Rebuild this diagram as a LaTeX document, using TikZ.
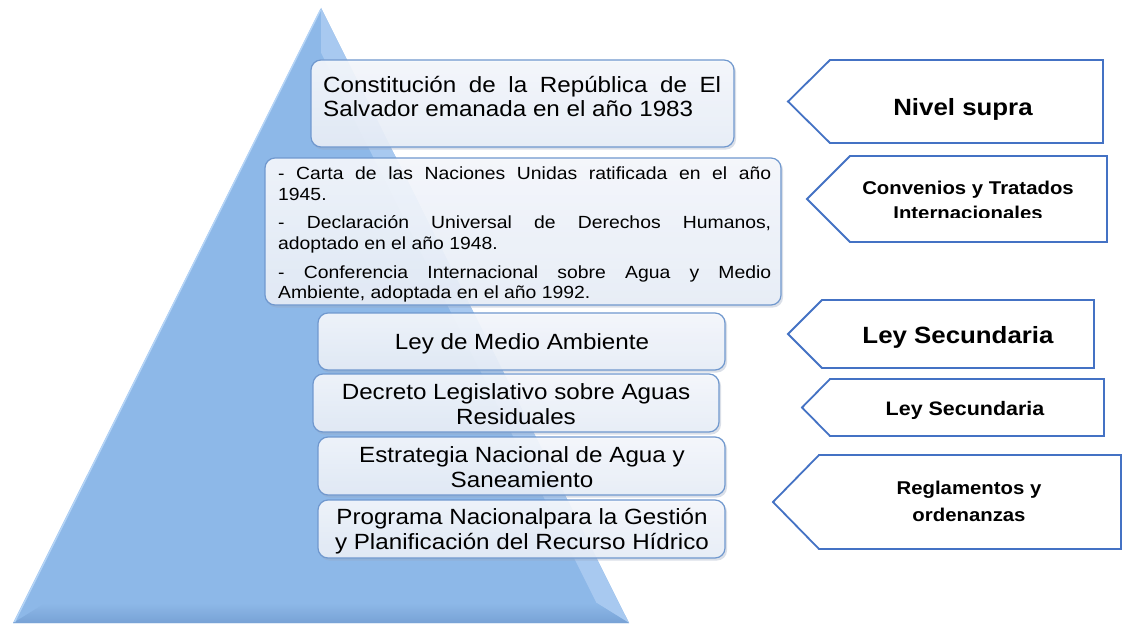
\documentclass[tikz,border=0pt]{standalone}
\usepackage{fontspec}
\setmainfont{Liberation Sans}[FakeStretch=1.1]
\definecolor{pyrmain}{RGB}{141,184,232}
\definecolor{pyrlight}{RGB}{168,201,240}
\definecolor{pyrdark}{RGB}{120,162,213}
\definecolor{pyrhl}{RGB}{180,212,247}
\definecolor{boxedge}{RGB}{112,152,206}
\definecolor{boxtop}{RGB}{247,249,253}
\definecolor{boxbot}{RGB}{233,239,248}
\definecolor{boxshadow}{RGB}{150,165,190}
\definecolor{arrowedge}{RGB}{68,114,196}
\begin{document}
\begin{tikzpicture}[x=1pt,y=-1pt,
  lbox/.style={draw=boxedge, line width=1.2pt, rounded corners=10pt, top color=boxtop, bottom color=boxbot, fill opacity=0.9},
  lshadow/.style={fill=boxshadow, fill opacity=0.35, rounded corners=10pt},
  larrow/.style={draw=arrowedge, line width=1.8pt, fill=white, line join=miter},
  tl/.style={inner sep=0pt, anchor=base west, font=\fontsize{22}{24}\selectfont},
  tc/.style={inner sep=0pt, anchor=base, font=\fontsize{22}{24}\selectfont},
  ts/.style={inner sep=0pt, anchor=base west, font=\fontsize{17.6}{21}\selectfont},
  tbig/.style={inner sep=0pt, anchor=base, font=\fontsize{23.5}{26}\bfseries\selectfont},
  tsmall/.style={inner sep=0pt, anchor=base, font=\fontsize{18.5}{22}\bfseries\selectfont}
]
\useasboundingbox (0,0) rectangle (1123,623);
\fill[white] (0,0) rectangle (1123,623);

% pyramid with bevel
\fill[pyrmain] (321,8) -- (13,623) -- (629,623) -- cycle;
\fill[pyrlight] (321,8) -- (321,52.7) -- (596.6,603) -- (629,623) -- cycle;
\shade[top color=pyrmain, bottom color=pyrdark] (13,623) -- (45.4,603) -- (596.6,603) -- (629,623) -- cycle;
\draw[pyrhl, line width=1.5pt] (320.5,10) -- (14.5,622);

% left boxes
\path[lshadow] (312.5,62) rectangle (736,149.5);
\path[lbox] (311,60) rectangle (734,147);
\path[lshadow] (266.5,160) rectangle (783,307.5);
\path[lbox] (265,158) rectangle (781,305);
\path[lshadow] (319.5,315) rectangle (727,372.5);
\path[lbox] (318,313) rectangle (725,370);
\path[lshadow] (314.5,376) rectangle (721,434.5);
\path[lbox] (313,374) rectangle (719,432);
\path[lshadow] (319.5,439) rectangle (727,497.5);
\path[lbox] (318,437) rectangle (725,495);
\path[lshadow] (319.5,502) rectangle (727,560.5);
\path[lbox] (318,500) rectangle (725,558);

% texts of the left boxes
\node[tl] (c1) at (323,93) {\makebox[398pt][s]{Constitución de la República de El}};
\node[tl] (c2) at (323,117) {Salvador emanada en el año 1983};

\node[ts] (k1) at (278,179) {\makebox[493pt][s]{- Carta de las Naciones Unidas ratificada en el año}};
\node[ts] (k2) at (278,200) {1945.};
\node[ts] (k3) at (278,228) {\makebox[493pt][s]{- Declaración Universal de Derechos Humanos,}};
\node[ts] (k4) at (278,249) {adoptado en el año 1948.};
\node[ts] (k5) at (278,278) {\makebox[493pt][s]{- Conferencia Internacional sobre Agua y Medio}};
\node[ts] (k6) at (278,298) {Ambiente, adoptada en el año 1992.};

\node[tc] (m1) at (522,349) {Ley de Medio Ambiente};
\node[tc] (d1) at (516,399) {Decreto Legislativo sobre Aguas};
\node[tc] (d2) at (516,424) {Residuales};
\node[tc] (e1) at (522,462) {Estrategia Nacional de Agua y};
\node[tc] (e2) at (522,487) {Saneamiento};
\node[tc] (p1) at (522,524) {Programa Nacionalpara la Gestión};
\node[tc] (p2) at (522,549) {y Planificación del Recurso Hídrico};

% right arrows
\draw[larrow] (788,101.5) -- (830,60) -- (1103,60) -- (1103,143) -- (830,143) -- cycle;
\node[tbig] (n1) at (963,115) {Nivel supra};

\draw[larrow] (807,199) -- (850,156) -- (1107,156) -- (1107,242) -- (850,242) -- cycle;
\node[tsmall] (n2) at (968,194) {Convenios y Tratados};
\begin{scope}
\clip (850,156) rectangle (1107,217);
\node[tsmall] (n3) at (968,219.5) {Internacionales};
\end{scope}

\draw[larrow] (788,334) -- (822,300) -- (1094,300) -- (1094,368) -- (822,368) -- cycle;
\node[tbig] (n4) at (958,343) {Ley Secundaria};

\draw[larrow] (802,407.5) -- (830,379) -- (1104,379) -- (1104,436) -- (830,436) -- cycle;
\node[tsmall, font=\fontsize{19.5}{22}\bfseries\selectfont] (n5) at (965,415) {Ley Secundaria};

\draw[larrow] (773,502) -- (819,455) -- (1121,455) -- (1121,549) -- (819,549) -- cycle;
\node[tsmall] (n6) at (969,494) {Reglamentos y};
\node[tsmall] (n7) at (969,521) {ordenanzas};
\end{tikzpicture}
\end{document}
